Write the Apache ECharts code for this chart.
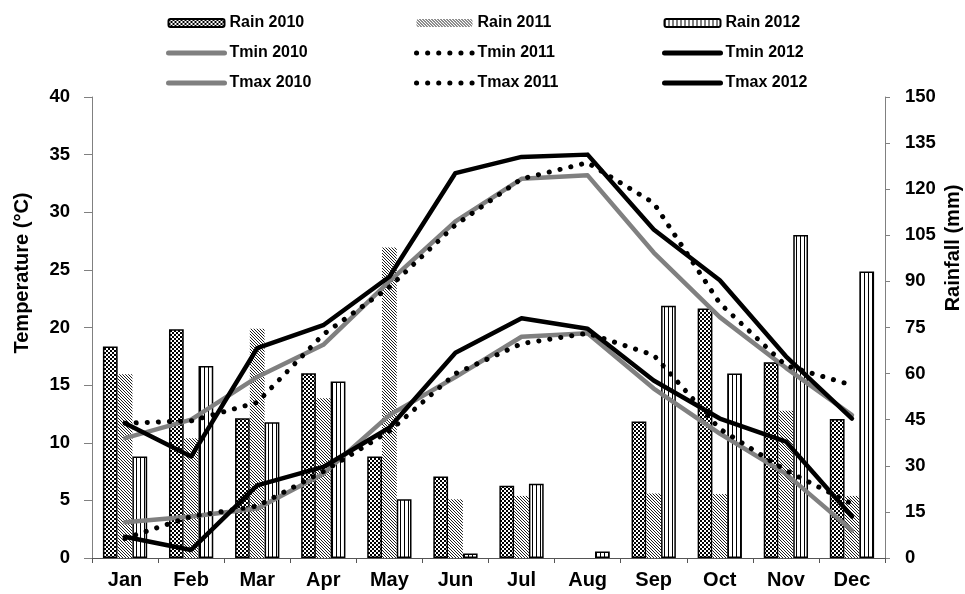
<!DOCTYPE html>
<html>
<head>
<meta charset="utf-8">
<script src="https://cdn.jsdelivr.net/npm/echarts@6/dist/echarts.min.js"></script>
<style>
html,body{margin:0;padding:0;background:#fff;}
#chart{width:965px;height:594px;}
</style>
</head>
<body>
<div id="chart"></div>
<script>
const months = ['Jan','Feb','Mar','Apr','May','Jun','Jul','Aug','Sep','Oct','Nov','Dec'];
const rain2010 = [68.8, 74.4, 45.5, 60.1, 33.0, 26.5, 23.5, 0, 44.4, 81.2, 63.7, 45.2];
const rain2011 = [59.8, 39.0, 74.6, 52.0, 101.0, 19.1, 20.2, 0, 21.0, 20.8, 47.9, 20.2];
const rain2012 = [33.0, 62.5, 44.2, 57.4, 19.1, 1.5, 24.2, 2.1, 82.1, 60.0, 105.1, 93.2];
const tmin2010 = [3.1, 3.6, 4.3, 7.3, 12.4, 15.7, 19.2, 19.5, 14.7, 10.8, 7.3, 2.4];
const tmin2011 = [1.7, 3.6, 4.5, 7.5, 11.0, 16.0, 18.6, 19.5, 17.6, 11.2, 7.6, 4.7];
const tmin2012 = [1.85, 0.7, 6.3, 7.9, 11.3, 17.8, 20.8, 19.9, 15.4, 12.1, 10.1, 3.6];
const tmax2010 = [10.4, 12.0, 15.7, 18.5, 24.0, 29.2, 32.9, 33.2, 26.5, 20.9, 16.5, 12.4];
const tmax2011 = [11.7, 11.9, 13.5, 19.4, 23.5, 28.9, 32.9, 34.3, 30.8, 22.1, 16.7, 15.0];
const tmax2012 = [11.7, 8.8, 18.2, 20.2, 24.4, 33.4, 34.8, 35.0, 28.5, 24.1, 17.5, 12.1];
const tempTicks = {min: 0, max: 40, interval: 5};
const rainTicks = {min: 0, max: 150, interval: 15};

function makePattern(w, h, bg, fg, rects) {
  const c = document.createElement('canvas');
  c.width = w; c.height = h;
  const ctx = c.getContext('2d');
  ctx.fillStyle = bg; ctx.fillRect(0, 0, w, h);
  ctx.fillStyle = fg;
  rects.forEach(p => ctx.fillRect(p[0], p[1], p[2] || 1, p[3] || 1));
  return {image: c, repeat: 'repeat'};
}
// stipple: checker of small dots
const pat2010 = makePattern(4, 4, '#fff', '#000', [[0,0,2,2],[2,2,2,2]]);
// diagonal hatch
const pat2011 = makePattern(3, 3, '#fff', '#1e1e1e', [[0,0],[1,1],[2,2]]);
// vertical stripes
const pat2012 = makePattern(4, 1, '#fff', '#000', [[0,0]]);

const FONT = 'Liberation Sans, Arial, sans-serif';
const GRAY = '#808080';
const DOTS = [0.1, 11];

function lineSeries(name, data, color, dotted) {
  return {
    name: name, type: 'line', data: data, yAxisIndex: 0,
    symbol: 'none', smooth: false,
    lineStyle: dotted ? {color: '#000', width: 5, type: DOTS, cap: 'round'}
                      : {color: color, width: 4.5, cap: 'round', join: 'round'},
    itemStyle: {color: dotted ? '#000' : color}
  };
}
function barSeries(name, data, pat, border) {
  return {
    name: name, type: 'bar', data: data.map(v => v === 0 ? null : v), yAxisIndex: 1,
    barGap: '0%', barCategoryGap: '33%',
    itemStyle: {color: pat, borderColor: border ? '#000' : 'transparent', borderWidth: border ? 1.5 : 0}
  };
}
function legend(left, names, dotted) {
  return {
    orient: 'vertical', left: left, top: 15, padding: 0,
    itemWidth: 56, itemHeight: 8, itemGap: 14,
    textStyle: {fontFamily: FONT, fontWeight: 'bold', fontSize: 16, color: '#000'},
    data: names.map(n => n.indexOf('Rain') === 0 ? {name: n} : {
      name: n, itemStyle: {opacity: 0},
      lineStyle: dotted ? {width: 5, type: DOTS, cap: 'round'} : {width: 5, type: 'solid', cap: 'round'}
    })
  };
}

const chart = echarts.init(document.getElementById('chart'), null, {renderer: 'canvas'});
chart.setOption({
  backgroundColor: '#fff',
  animation: false,
  textStyle: {fontFamily: FONT},
  grid: {left: 92, right: 80, top: 97, bottom: 36, containLabel: false},
  legend: [
    legend(166, ['Rain 2010', 'Tmin 2010', 'Tmax 2010'], false),
    legend(414, ['Rain 2011', 'Tmin 2011', 'Tmax 2011'], true),
    legend(662, ['Rain 2012', 'Tmin 2012', 'Tmax 2012'], false)
  ],
  xAxis: {
    type: 'category', data: months, boundaryGap: true,
    axisLine: {lineStyle: {color: '#555', width: 1}},
    axisTick: {show: true, length: 5, inside: false, lineStyle: {color: '#555'}},
    axisLabel: {fontFamily: FONT, fontWeight: 'bold', fontSize: 20, color: '#000', margin: 12},
    splitLine: {show: false}
  },
  yAxis: [
    {
      type: 'value', min: tempTicks.min, max: tempTicks.max, interval: tempTicks.interval, position: 'left',
      axisLine: {show: true, lineStyle: {color: GRAY, width: 1}},
      axisTick: {show: true, length: 8, lineStyle: {color: GRAY}},
      axisLabel: {fontFamily: FONT, fontWeight: 'bold', fontSize: 18.5, color: '#000', margin: 22},
      splitLine: {show: false}
    },
    {
      type: 'value', min: rainTicks.min, max: rainTicks.max, interval: rainTicks.interval, position: 'right',
      axisLine: {show: true, lineStyle: {color: GRAY, width: 1}},
      axisTick: {show: true, length: 5, lineStyle: {color: GRAY}},
      axisLabel: {fontFamily: FONT, fontWeight: 'bold', fontSize: 18.5, color: '#000', margin: 20},
      splitLine: {show: false}
    }
  ],
  graphic: [
    {type: 'text', x: 22, y: 273, rotation: Math.PI / 2,
     style: {text: 'Temperature (°C)', font: 'bold 20px ' + FONT, fill: '#000', textAlign: 'center', textVerticalAlign: 'middle'}},
    {type: 'text', x: 953, y: 248, rotation: Math.PI / 2,
     style: {text: 'Rainfall (mm)', font: 'bold 20px ' + FONT, fill: '#000', textAlign: 'center', textVerticalAlign: 'middle'}}
  ],
  series: [
    barSeries('Rain 2010', rain2010, pat2010, true),
    barSeries('Rain 2011', rain2011, pat2011, false),
    barSeries('Rain 2012', rain2012, pat2012, true),
    lineSeries('Tmin 2010', tmin2010, GRAY, false),
    lineSeries('Tmax 2010', tmax2010, GRAY, false),
    lineSeries('Tmin 2011', tmin2011, '#000', true),
    lineSeries('Tmax 2011', tmax2011, '#000', true),
    lineSeries('Tmin 2012', tmin2012, '#000', false),
    lineSeries('Tmax 2012', tmax2012, '#000', false)
  ]
});
</script>
</body>
</html>
